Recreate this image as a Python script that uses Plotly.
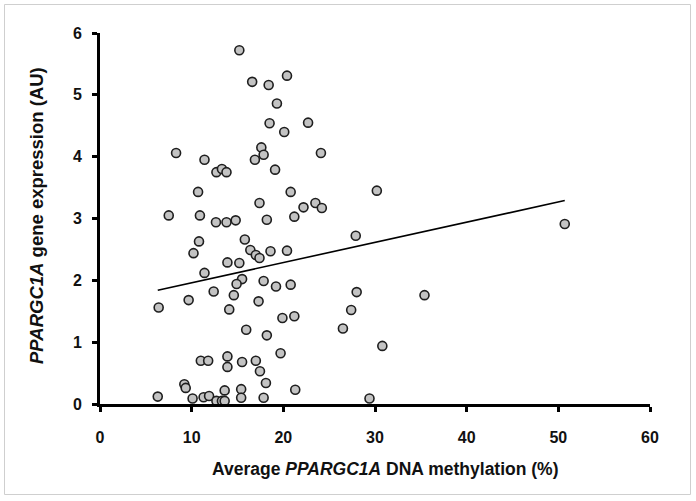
import plotly.graph_objects as go

# ---- data ----
methylation = [15.2, 16.6, 18.4, 20.4, 19.3, 18.5, 20.1, 22.7, 8.3, 11.4,
               17.6, 16.9, 17.85, 24.1, 12.7, 13.3, 13.8, 19.1, 10.7, 17.4,
               20.8, 30.2, 22.2, 23.5, 24.2, 21.2, 7.5, 10.9, 12.65, 13.8,
               14.8, 18.2, 27.9, 15.8, 10.8, 10.2, 16.4, 17.0, 17.4, 18.6,
               20.4, 13.9, 15.2, 11.4, 15.5, 14.9, 17.85, 19.2, 20.8, 28.0,
               35.4, 12.4, 14.6, 9.67, 17.3, 6.4, 14.1, 27.4, 19.9, 21.2,
               26.5, 15.95, 18.2, 30.8, 19.7, 13.9, 11.0, 11.8, 15.5, 17.0,
               13.9, 17.45, 18.1, 9.2, 9.35, 6.3, 10.1, 11.3, 11.9, 13.6,
               15.4, 15.4, 12.7, 13.3, 13.6, 17.85, 21.3, 29.4, 50.7]
expression = [5.72, 5.21, 5.16, 5.31, 4.86, 4.54, 4.40, 4.55, 4.06, 3.95,
              4.15, 3.95, 4.03, 4.06, 3.75, 3.80, 3.75, 3.79, 3.43, 3.25,
              3.43, 3.45, 3.18, 3.25, 3.17, 3.03, 3.05, 3.05, 2.94, 2.94,
              2.97, 2.98, 2.72, 2.66, 2.63, 2.44, 2.49, 2.41, 2.36, 2.47,
              2.48, 2.29, 2.28, 2.12, 2.02, 1.94, 1.99, 1.90, 1.93, 1.81,
              1.76, 1.82, 1.76, 1.68, 1.66, 1.56, 1.53, 1.52, 1.39, 1.42,
              1.22, 1.20, 1.11, 0.94, 0.82, 0.77, 0.70, 0.70, 0.68, 0.70,
              0.60, 0.53, 0.34, 0.32, 0.26, 0.12, 0.09, 0.11, 0.13, 0.22,
              0.24, 0.10, 0.05, 0.05, 0.05, 0.10, 0.23, 0.09, 2.91]

trend_x = [6.3, 50.7]
trend_y = [1.84, 3.29]

x_ticks = [0, 10, 20, 30, 40, 50, 60]
y_ticks = [0, 1, 2, 3, 4, 5, 6]

# ---- layout geometry (pixels) ----
W, H = 696, 501
L, R, T, B = 100, 650, 33, 404
pw, ph = R - L, B - T

def px(x):
    return (x - L) / pw

def py(y):
    return (B - y) / ph

FONT = "Liberation Sans"

fig = go.Figure()
fig.add_trace(go.Scatter(
    x=trend_x, y=trend_y, mode="lines",
    line=dict(color="black", width=1.6),
    hoverinfo="skip", showlegend=False))
fig.add_trace(go.Scatter(
    x=methylation, y=expression, mode="markers",
    marker=dict(size=9, color="#c3c3c3", line=dict(color="#1e1e1e", width=1.6)),
    cliponaxis=False, showlegend=False))

axis_common = dict(
    showgrid=False, zeroline=False, showline=True, linecolor="black",
    linewidth=3, ticks="outside", ticklen=5, tickwidth=3, tickcolor="black",
    tickfont=dict(family=FONT, size=16, color="#111"),
)
fig.update_xaxes(range=[0, 60], tickvals=x_ticks,
                 ticktext=[f"<b>{v}</b>" for v in x_ticks],
                 ticklabelstandoff=12, **axis_common)
fig.update_yaxes(range=[0, 6], tickvals=y_ticks,
                 ticktext=[f"<b>{v}</b>" for v in y_ticks],
                 ticklabelstandoff=7, **axis_common)

fig.add_annotation(
    x=px(385), y=py(469), xref="paper", yref="paper", showarrow=False,
    text="<b>Average <i>PPARGC1A</i> DNA methylation (%)</b>",
    font=dict(family=FONT, size=17.5, color="#111"), xanchor="center", yanchor="middle")
fig.add_annotation(
    x=px(36), y=py(216), xref="paper", yref="paper", showarrow=False,
    text="<b><i>PPARGC1A</i> gene expression (AU)</b>", textangle=-90,
    font=dict(family=FONT, size=18.5, color="#111"), xanchor="center", yanchor="middle")

fig.add_shape(type="rect", xref="paper", yref="paper",
              x0=px(4.5), x1=px(690.5), y0=py(494.5), y1=py(4.5),
              line=dict(color="#cfcfcf", width=1), layer="below")

fig.update_layout(
    width=W, height=H,
    margin=dict(l=L, r=W - R, t=T, b=H - B),
    paper_bgcolor="white", plot_bgcolor="white",
)

fig.write_html("out.html", config={"displayModeBar": False},
               post_script="document.body.style.margin='0';document.body.style.padding='0';")
